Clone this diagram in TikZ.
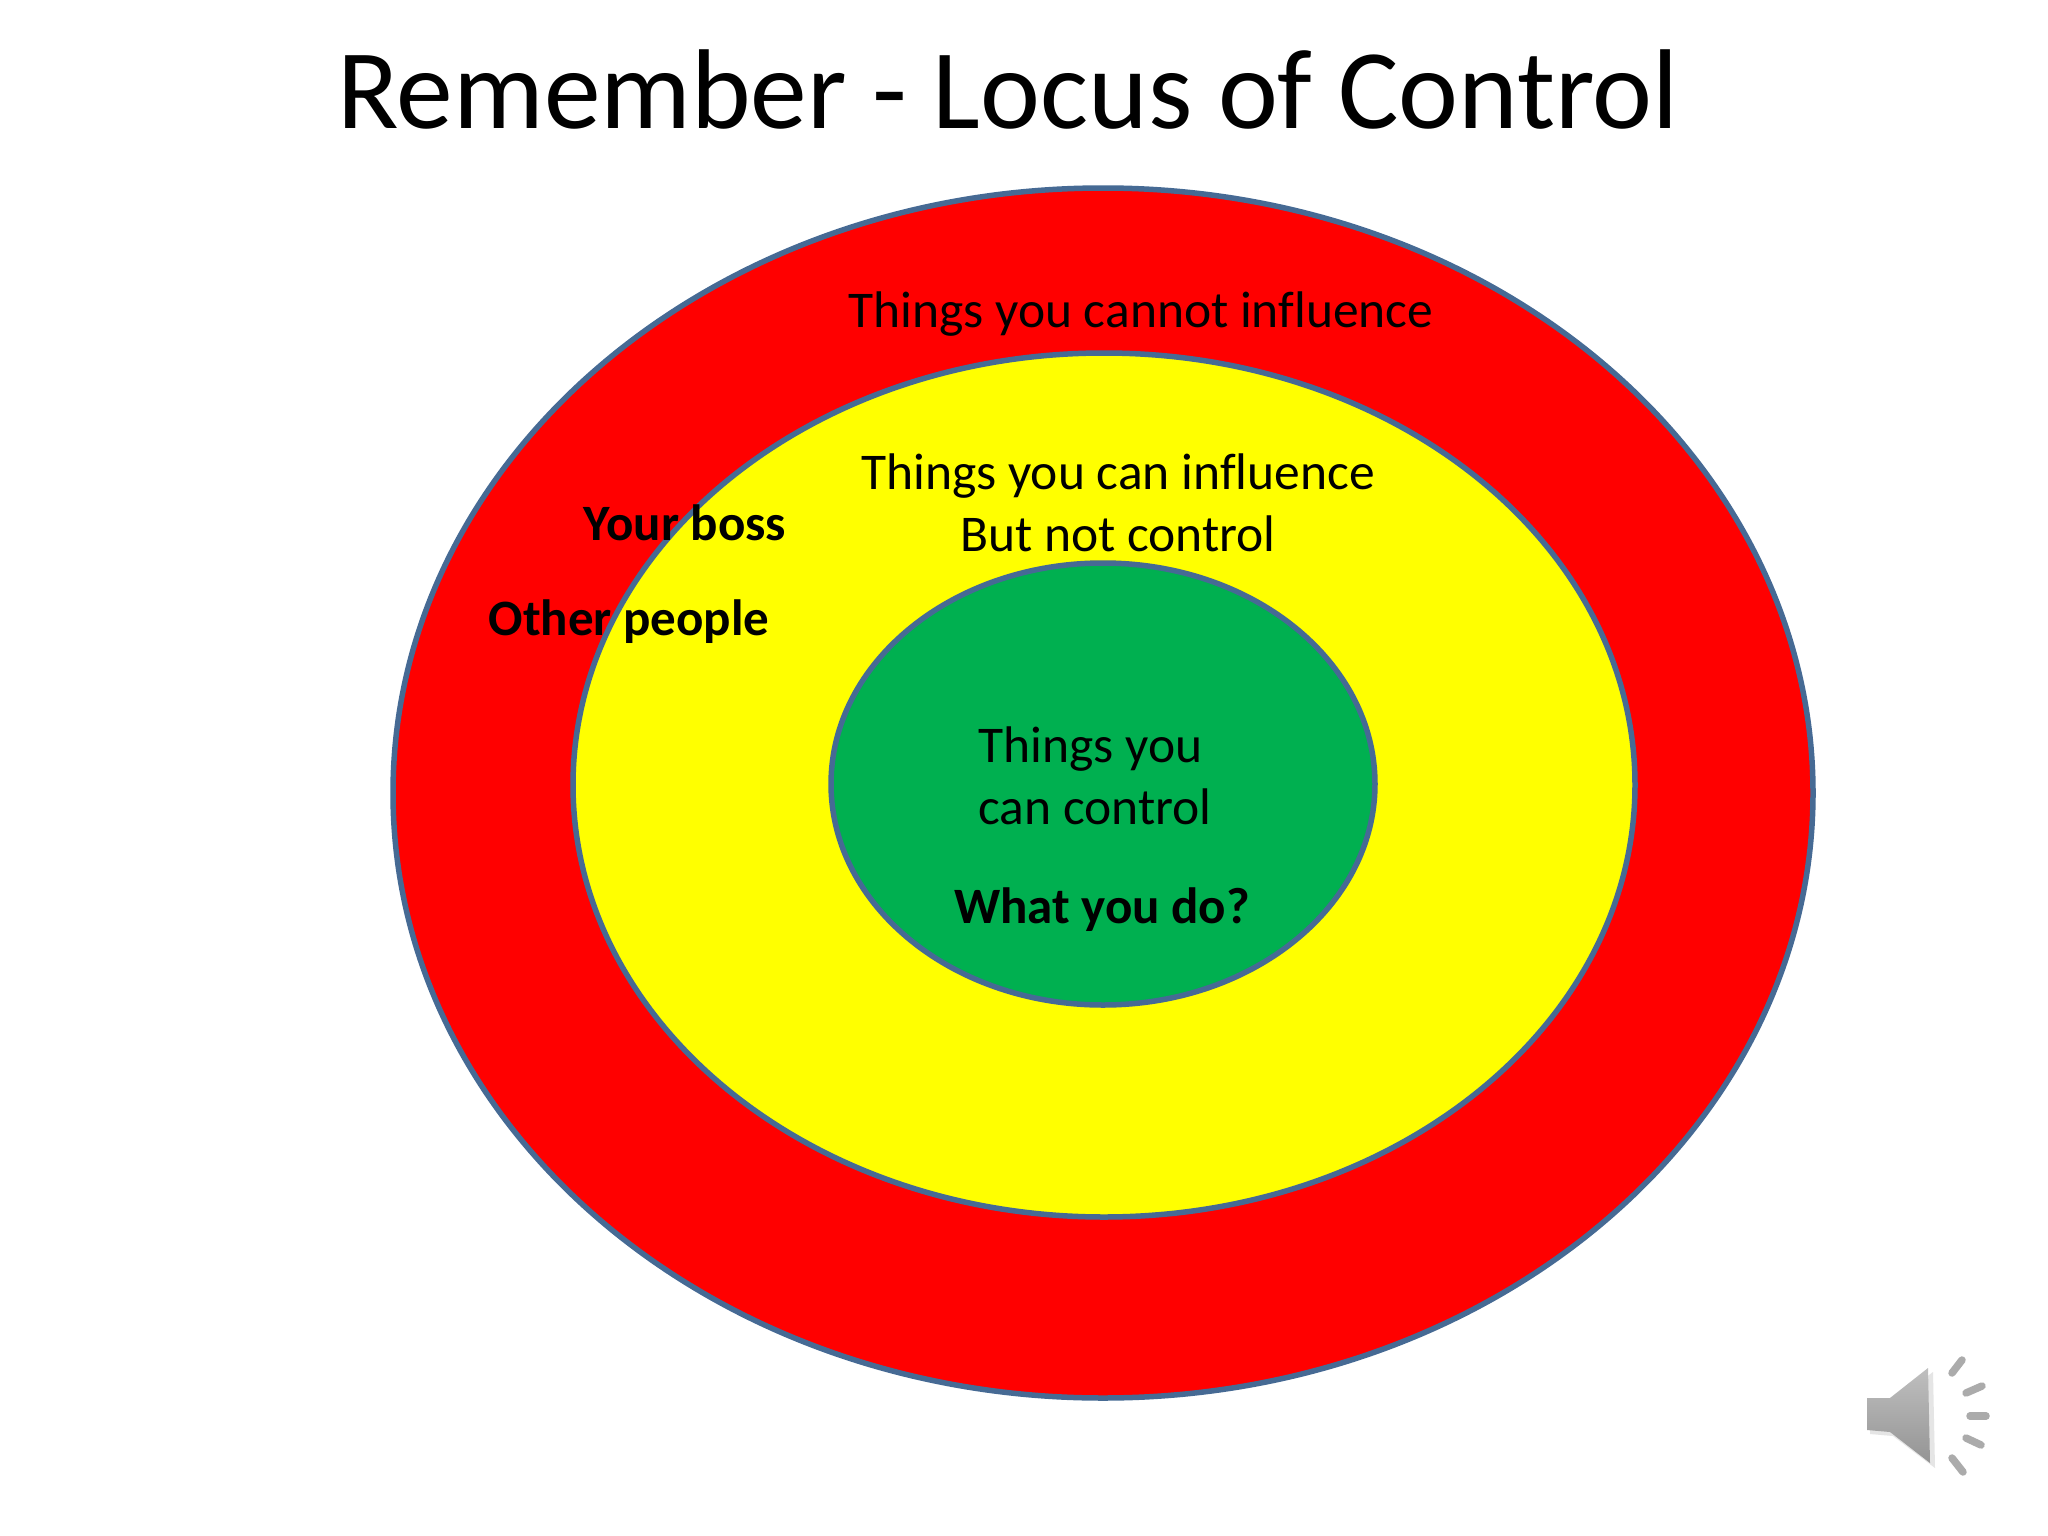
\documentclass[tikz,border=0pt]{standalone}
\usepackage{fontspec}
\setmainfont{Carlito}
\usetikzlibrary{shapes.geometric}
\definecolor{ringline}{HTML}{466A94}
\definecolor{ringgreen}{HTML}{00B050}
\definecolor{ringred}{RGB}{255,0,0}
\definecolor{ringyellow}{RGB}{255,255,0}
\tikzset{
  ring/.style={ellipse,draw=ringline,line width=5.5pt,inner sep=0pt},
  body/.style={text=black,inner sep=0pt,align=center,font=\fontsize{51.5}{62}\selectfont},
  boldlabel/.style={text=black,inner sep=0pt,font=\fontsize{51}{62}\selectfont\bfseries},
  ray/.style={line width=7.5pt,draw=black!33,line cap=round}
}
\newcommand{\fluence}{inf\kern0ptluence}
\begin{document}
\begin{tikzpicture}[x=1pt,y=-1pt]
\useasboundingbox (0,0) rectangle (2048,1536);
\fill[white] (0,0) rectangle (2048,1536);
\node[ring,fill=ringred,minimum width=1420pt,minimum height=1210pt] (outer) at (1103,793) {};
\node[ring,fill=ringyellow,minimum width=1062pt,minimum height=864pt] (middle) at (1104,785) {};
\node[ring,fill=ringgreen,minimum width=544pt,minimum height=442pt] (inner) at (1103,784) {};
\node[inner sep=0pt,font=\fontsize{113.5}{120}\selectfont] (title) at (1008,90) {Remember - Locus of Control};
\node[body] (cannot) at (1141,314) {Things you cannot \fluence};
\node[body] (can) at (1118,503) {Things you can \fluence\\But not control};
\node[body,align=left] (control) at (1095,776) {Things you\\can control};
\node[boldlabel] (what) at (1102,910) {What you do?};
\node[boldlabel] (boss) at (685,523) {Your boss};
\node[boldlabel] (other) at (629,622) {Other people};
% speaker icon
\fill[black!10] (1870,1402)--(1893,1402)--(1933,1372)--(1935,1468)--(1893,1436)--(1870,1434)--cycle;
\shade[top color=black!25,bottom color=black!42,draw=none]
  (1867,1398)--(1890,1398)--(1928,1368)--(1930,1463)--(1890,1432)--(1867,1430)--cycle;
\draw[ray] (1952,1373)--(1962,1360);
\draw[ray] (1966,1393)--(1982,1386);
\draw[ray] (1970,1416)--(1986,1416);
\draw[ray] (1966,1438)--(1981,1445);
\draw[ray] (1952,1458)--(1963,1472);
\end{tikzpicture}
\end{document}
